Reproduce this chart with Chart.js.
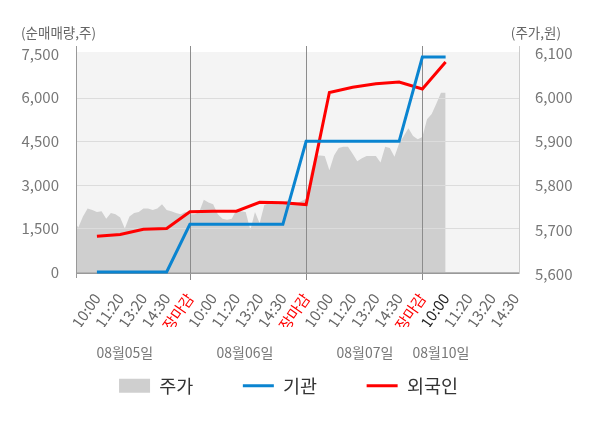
<!DOCTYPE html>
<html>
<head>
<meta charset="utf-8">
<script src="https://cdn.jsdelivr.net/npm/chart.js@4"></script>
<style>
  body { margin: 0; background: #fff; }
  #wrap { width: 600px; height: 428px; }
</style>
</head>
<body>
<div id="wrap"><canvas id="grafico"></canvas></div>
<script>
// 축 라벨
const tickLabels = ['10:00', '11:20', '13:20', '14:30', '장마감',
                    '10:00', '11:20', '13:20', '14:30', '장마감',
                    '10:00', '11:20', '13:20', '14:30', '장마감',
                    '10:00', '11:20', '13:20', '14:30'];
const dates = ['08월05일', '08월06일', '08월07일', '08월10일'];
const leftTicks = [0, 1500, 3000, 4500, 6000, 7500];
const rightTicks = [5600, 5700, 5800, 5900, 6000, 6100];

// 주가 (5 samples per label step)
const price = [5720, 5705, 5730, 5748, 5745, 5740, 5742, 5725, 5738, 5735,
               5728, 5703, 5730, 5738, 5740, 5748, 5748, 5745, 5748, 5758,
               5745, 5742, 5738, 5735, 5740, 5735, 5735, 5740, 5768, 5762,
               5758, 5735, 5725, 5723, 5725, 5745, 5742, 5740, 5700, 5740,
               5715, 5756, 5760, 5760, 5758, 5762, 5767, 5760, 5760, 5765,
               5770, 5830, 5868, 5868, 5867, 5835, 5868, 5885, 5888, 5888,
               5872, 5855, 5862, 5867, 5867, 5867, 5852, 5888, 5885, 5865,
               5895, 5912, 5930, 5912, 5905, 5910, 5950, 5962, 5985, 6010,
               6010];
// 순매매량 at each label
const gigwan = [0, 0, 0, 0, 1640, 1640, 1640, 1640, 1640, 4500, 4500, 4500, 4500, 4500, 7400, 7400];
const foreign = [1230, 1290, 1470, 1500, 2070, 2090, 2090, 2400, 2380, 2320, 6180, 6360, 6480, 6540, 6300, 7230];

const samplesPerStep = 5;
const datePos = [2.2, 7.37, 12.53, 15.8];
const FONT = '"Noto Sans CJK KR", "Noto Sans", sans-serif';
Chart.defaults.font.family = FONT;

const deco = {
    id: 'deco',
    beforeDraw(chart) {
        const a = chart.chartArea, c = chart.ctx;
        c.save();
        c.fillStyle = '#f4f4f4';
        c.fillRect(a.left, a.top - 1, a.right - a.left, a.bottom - a.top + 1);
        c.restore();
    },
    afterDatasetDraw(chart, args) {
        if (args.index !== 0) return;
        const a = chart.chartArea, c = chart.ctx;
        const x = chart.scales.x, y = chart.scales.y;
        c.save();
        c.lineWidth = 1;
        leftTicks.forEach(t => {
            if (t === 7500) return;
            const py = Math.round(y.getPixelForValue(t)) + 0.5;
            c.strokeStyle = t === 0 ? '#b4b4b4' : '#dcdcdc';
            c.beginPath(); c.moveTo(a.left, py); c.lineTo(a.right, py); c.stroke();
        });
        c.strokeStyle = '#8c8c8c';
        [5, 10, 15].forEach(v => {
            const px = Math.round(x.getPixelForValue(v)) + 0.5;
            c.beginPath(); c.moveTo(px, a.top - 7); c.lineTo(px, a.bottom + 6); c.stroke();
        });
        c.strokeStyle = '#999';
        c.beginPath(); c.moveTo(a.left + 0.5, a.top - 7); c.lineTo(a.left + 0.5, a.bottom + 4); c.stroke();
        c.beginPath(); c.moveTo(a.left, a.bottom - 0.5); c.lineTo(a.right, a.bottom - 0.5); c.stroke();
        c.strokeStyle = '#cccccc';
        c.beginPath(); c.moveTo(a.right - 0.5, a.top - 7); c.lineTo(a.right - 0.5, a.bottom); c.stroke();
        c.restore();
    },
    afterDraw(chart) {
        const c = chart.ctx, x = chart.scales.x;
        c.save();
        c.fillStyle = '#666';
        c.font = '13.5px ' + FONT;
        c.textBaseline = 'middle';
        c.textAlign = 'left';
        c.fillText('(순매매량,주)', 21, 33);
        c.textAlign = 'right';
        c.fillText('(주가,원)', 561, 33);
        c.fillStyle = '#777';
        c.font = '14px ' + FONT;
        c.textAlign = 'center';
        dates.forEach((d, i) => c.fillText(d, x.getPixelForValue(datePos[i]), 353));
        c.restore();
    }
};

document.addEventListener('DOMContentLoaded', function() {
    const ctx = document.getElementById('grafico');
    new Chart(ctx, {
        type: 'line',
        data: {
            datasets: [{
                label: '주가',
                data: price.map((p, i) => ({ x: i / samplesPerStep, y: p })),
                yAxisID: 'y2',
                backgroundColor: '#cfcfcf',
                borderColor: '#cfcfcf',
                borderWidth: 0,
                fill: 'start',
                pointRadius: 0,
                pointStyle: 'rect',
                order: 3
            }, {
                label: '기관',
                data: gigwan.map((v, i) => ({ x: i + 1, y: v })),
                yAxisID: 'y',
                borderColor: '#0a84d0',
                backgroundColor: '#0a84d0',
                borderWidth: 3,
                pointRadius: 0,
                pointStyle: 'line',
                order: 1
            }, {
                label: '외국인',
                data: foreign.map((v, i) => ({ x: i + 1, y: v })),
                yAxisID: 'y',
                borderColor: '#ff0000',
                backgroundColor: '#ff0000',
                borderWidth: 3,
                pointRadius: 0,
                pointStyle: 'line',
                order: 2
            }]
        },
        options: {
            responsive: true,
            maintainAspectRatio: false,
            animation: false,
            layout: { padding: { top: 53, bottom: 23, left: 0, right: 23 } },
            scales: {
                x: {
                    type: 'linear',
                    min: 0.1,
                    max: 19.2,
                    afterBuildTicks: s => { s.ticks = tickLabels.map((_, i) => ({ value: i + 1 })); },
                    afterFit: s => { s.height = 53; },
                    grid: { display: false },
                    border: { display: false },
                    ticks: {
                        autoSkip: false,
                        minRotation: 55,
                        maxRotation: 55,
                        padding: 8,
                        font: { size: 15 },
                        callback: v => tickLabels[v - 1],
                        color: c => c.tick.value === 16 ? '#222' : (c.tick.value % 5 === 0 ? '#ff0000' : '#666')
                    }
                },
                y: {
                    position: 'left',
                    min: -70,
                    max: 7540,
                    afterBuildTicks: s => { s.ticks = leftTicks.map(v => ({ value: v })); },
                    afterFit: s => { s.width = 76; },
                    grid: { display: false },
                    border: { display: false },
                    ticks: { color: '#777', padding: 9, font: { size: 15 }, callback: v => v.toLocaleString('en-US') }
                },
                y2: {
                    position: 'right',
                    min: 5600,
                    max: 6100,
                    afterBuildTicks: s => { s.ticks = rightTicks.map(v => ({ value: v })); },
                    afterFit: s => { s.width = 57; },
                    grid: { display: false },
                    border: { display: false },
                    ticks: { color: '#777', padding: 7, font: { size: 15 }, callback: v => v.toLocaleString('en-US') }
                }
            },
            plugins: {
                tooltip: { enabled: false },
                legend: {
                    position: 'bottom',
                    labels: {
                        usePointStyle: true,
                        pointStyleWidth: 31,
                        boxHeight: 14,
                        padding: 49.5,
                        color: '#333',
                        font: { size: 18.5 },
                        sort: (a, b) => a.datasetIndex - b.datasetIndex
                    }
                }
            }
        },
        plugins: [deco]
    });
});
</script>
</body>
</html>
